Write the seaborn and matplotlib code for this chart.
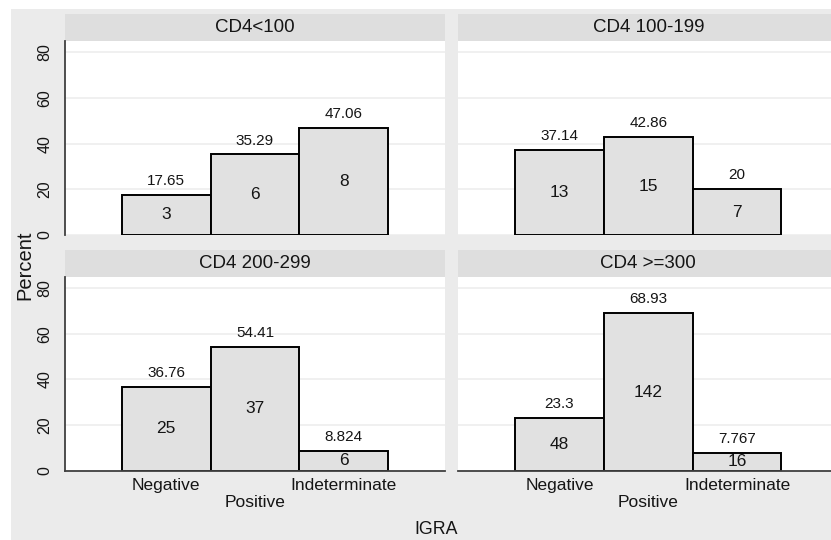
import pandas as pd
import matplotlib
matplotlib.use("Agg")
import matplotlib.pyplot as plt
from matplotlib.patches import Rectangle
import seaborn as sns

# values
panels = ["CD4<100", "CD4 100-199", "CD4 200-299", "CD4 >=300"]
igra = ["Negative", "Positive", "Indeterminate"]
tick_labels = ["Negative", "\nPositive", "Indeterminate"]
pct_lt100 = [17.65, 35.29, 47.06]
pct_100_199 = [37.14, 42.86, 20]
pct_200_299 = [36.76, 54.41, 8.824]
pct_ge300 = [23.3, 68.93, 7.767]
n_lt100 = [3, 6, 8]
n_100_199 = [13, 15, 7]
n_200_299 = [25, 37, 6]
n_ge300 = [48, 142, 16]
yticks = [0, 20, 40, 60, 80]

percents = [pct_lt100, pct_100_199, pct_200_299, pct_ge300]
counts = [n_lt100, n_100_199, n_200_299, n_ge300]

sns.set_style("white")
plt.rcParams["font.family"] = ["Liberation Sans", "DejaVu Sans"]

BG = "#ebebeb"
STRIP = "#dedede"
BAR = "#e1e1e1"
AXC = "#404040"
TXT = "#151515"

W, H = 831, 540
fig = plt.figure(figsize=(W / 100, H / 100), dpi=100, facecolor="white")
# grey graph region (white margin top/left as in the scan)
fig.add_artist(Rectangle((11 / W, 0), 1, 1 - 9 / H, transform=fig.transFigure,
                         facecolor=BG, edgecolor="none", zorder=-10))

left_px = [65, 458.3]
bottom_px = [235, 470.7]
ax_w, ax_h = 380, 193.5
strip_h = 27.5

for i, title in enumerate(panels):
    row, col = divmod(i, 2)
    ax = fig.add_axes([left_px[col] / W, 1 - bottom_px[row] / H, ax_w / W, ax_h / H])
    df = pd.DataFrame({"IGRA": igra, "Percent": percents[i]})
    sns.barplot(data=df, x="IGRA", y="Percent", ax=ax, color=BAR, saturation=1,
                edgecolor="black", linewidth=1.4, width=1, errorbar=None)

    ax.set_xlim(-1.14, 3.14)
    ax.set_ylim(0, 84.8)
    ax.set_facecolor("white")
    ax.set_yticks(yticks)
    ax.grid(axis="y", color="#ececec", lw=1.1)
    ax.grid(axis="x", visible=False)
    ax.set_axisbelow(True)
    ax.set_xlabel("")
    ax.set_ylabel("")

    for s in ["top", "right"]:
        ax.spines[s].set_visible(False)
    ax.spines["left"].set_visible(col == 0)
    ax.spines["bottom"].set_visible(row == 1)
    for s in ["left", "bottom"]:
        ax.spines[s].set_color(AXC)
        ax.spines[s].set_linewidth(1.3)

    # labels: percent above, count inside
    cont = ax.containers[0]
    ax.bar_label(cont, labels=[f"{p:.4g}" for p in percents[i]], padding=5,
                 fontsize=11, color=TXT)
    ax.bar_label(cont, labels=[str(n) for n in counts[i]], label_type="center",
                 fontsize=12.5, color=TXT)

    # y axis
    if col == 0:
        ax.tick_params(axis="y", length=3.6, width=1, color=AXC, pad=5.5,
                       labelsize=11.5, labelcolor=TXT)
        for lbl in ax.get_yticklabels():
            lbl.set_rotation(90)
            lbl.set_va("center")
    else:
        ax.tick_params(axis="y", left=False, labelleft=False)

    # x axis
    ax.set_xticks([0, 1, 2])
    if row == 1:
        ax.set_xticklabels(tick_labels, linespacing=1.15)
        ax.tick_params(axis="x", length=0, pad=5.5, labelsize=12.5,
                       labelcolor=TXT)
    else:
        ax.tick_params(axis="x", length=0, labelbottom=False)

    # facet strip
    ax.add_patch(Rectangle((0, 1), 1, strip_h / ax_h, transform=ax.transAxes,
                           clip_on=False, facecolor=STRIP, edgecolor="none"))
    ax.text(0.5, 1 + strip_h / 2 / ax_h, title, transform=ax.transAxes,
            ha="center", va="center", fontsize=13.5, color=TXT)

fig.text(24.5 / W, 1 - 265 / H, "Percent", rotation=90, ha="center", va="center",
         fontsize=14.5, color=TXT)
fig.text(436 / W, 1 - 529 / H, "IGRA", ha="center", va="center",
         fontsize=12.8, color=TXT)

fig.savefig("out.png", dpi=100, facecolor=fig.get_facecolor())
